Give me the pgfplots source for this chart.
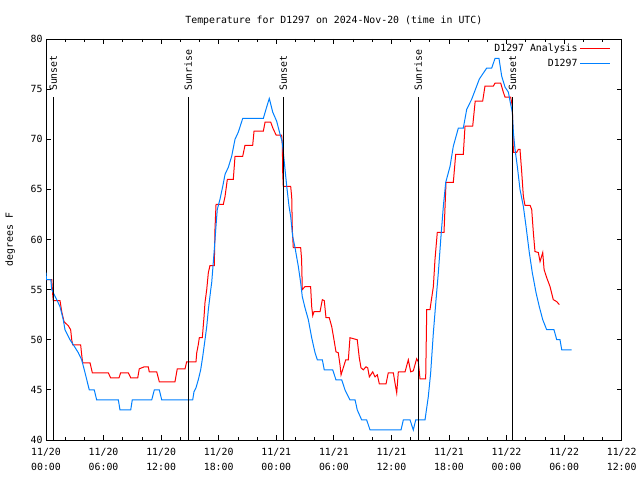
\documentclass[border=0pt]{standalone}
\usepackage{fontspec}
\setmainfont{DejaVu Sans Mono}
\usepackage{pgfplots}
\usepackage{pgfplotstable}
\pgfplotsset{compat=1.18}
\definecolor{gred}{RGB}{255,0,0}
\definecolor{gblue}{RGB}{0,128,255}

\pgfplotstableread{
h T
0 56.0
0.60 56.0
0.70 54.5
0.76 53.9
1.46 53.9
1.64 52.8
1.88 51.8
2.32 51.4
2.57 51.0
2.68 50.0
2.78 49.5
3.61 49.5
3.72 48.5
3.82 47.7
4.59 47.7
4.83 46.7
6.49 46.7
6.74 46.2
7.61 46.2
7.78 46.7
8.58 46.7
8.83 46.2
9.56 46.2
9.72 47.1
10.24 47.3
10.66 47.3
10.76 46.8
11.54 46.8
11.81 45.8
13.44 45.8
13.68 47.1
14.49 47.1
14.66 47.8
15.63 47.8
15.71 48.7
15.87 49.5
15.98 50.2
16.29 50.2
16.47 52.3
16.57 53.7
16.75 55.0
16.92 56.7
17.09 57.4
17.54 57.4
17.61 61.0
17.72 63.5
18.48 63.5
18.66 64.3
18.90 66.0
19.52 66.0
19.70 68.3
20.50 68.3
20.74 69.4
21.54 69.4
21.68 70.8
22.65 70.8
22.83 71.7
23.42 71.7
23.69 71.0
24.00 70.4
24.56 70.4
24.63 69.5
24.67 66.7
24.73 65.3
25.50 65.3
25.61 64.2
25.67 61.0
25.77 59.2
26.54 59.2
26.64 58.0
26.71 55.0
26.99 55.3
27.58 55.3
27.69 53.3
27.80 52.4
27.93 52.8
28.56 52.8
28.80 54.0
29.00 53.9
29.18 52.2
29.52 52.2
29.78 51.3
30.05 49.8
30.22 48.8
30.46 48.7
30.64 47.5
30.75 46.5
30.98 47.2
31.24 48.0
31.51 48.0
31.68 50.2
32.44 50.0
32.65 48.2
32.83 47.2
33.07 47.0
33.35 47.3
33.53 47.2
33.70 46.3
34.05 46.8
34.29 46.3
34.53 46.5
34.74 45.6
35.44 45.6
35.67 46.7
36.20 46.7
36.37 45.7
36.55 44.7
36.72 46.8
37.42 46.8
37.76 48.0
38.01 46.8
38.28 46.9
38.63 48.1
38.80 47.8
38.98 46.1
39.57 46.1
39.68 53.0
40.02 53.0
40.20 54.2
40.37 55.3
40.54 58.0
40.78 60.7
41.48 60.7
41.69 65.7
42.45 65.7
42.70 68.5
43.49 68.5
43.67 71.3
44.47 71.3
44.73 73.8
45.51 73.8
45.75 75.3
46.62 75.3
46.80 75.6
47.39 75.6
47.66 74.7
47.84 74.2
48.43 74.2
48.60 73.3
48.71 68.7
49.06 68.7
49.23 69.0
49.40 69.0
49.58 66.7
49.75 64.3
49.92 63.4
50.45 63.4
50.62 63.0
50.79 60.7
50.96 58.8
51.31 58.7
51.49 57.8
51.77 58.7
51.91 57.0
52.18 56.2
52.53 55.3
52.87 54.0
53.23 53.8
53.50 53.5
}\analysis

\pgfplotstableread{
h T
0 56.7
0.05 56.0
0.50 56.0
0.60 55.0
1.12 54.0
1.46 53.3
1.80 52.0
1.98 51.0
2.50 50.0
2.85 49.5
3.37 48.7
3.72 48.0
4.07 46.7
4.51 45.0
5.03 45.0
5.28 44.0
7.54 44.0
7.71 43.0
8.83 43.0
8.99 44.0
11.02 44.0
11.29 45.0
11.81 45.0
12.06 44.0
15.29 44.0
15.42 44.8
15.63 45.2
15.87 46.0
16.12 47.0
16.33 48.3
16.57 50.0
16.75 51.3
16.92 53.0
17.17 55.0
17.27 55.7
17.54 59.0
17.69 61.0
17.85 63.0
18.13 64.0
18.42 65.3
18.66 66.5
19.00 67.2
19.35 68.3
19.70 70.0
20.04 70.7
20.50 72.07
22.65 72.07
22.93 73.0
23.27 74.07
23.63 72.7
24.04 71.8
24.39 70.5
24.60 69.8
24.70 69.0
24.91 67.0
25.09 65.3
25.33 63.3
25.50 62.3
25.71 60.3
25.95 59.2
26.30 57.3
26.54 55.7
26.71 54.3
26.99 53.2
27.34 52.0
27.69 50.2
28.04 48.7
28.28 48.0
28.80 48.0
29.00 47.0
29.88 47.0
30.22 46.0
30.82 46.0
31.16 45.0
31.68 44.0
32.21 44.0
32.44 43.0
32.90 42.0
33.42 42.0
33.77 41.0
37.00 41.0
37.24 42.0
37.94 42.0
38.28 41.0
38.53 42.0
39.50 42.0
39.84 44.3
40.09 46.7
40.37 50.7
40.65 54.0
40.89 56.7
41.14 60.0
41.41 63.3
41.66 65.7
42.11 67.3
42.45 69.3
42.97 71.1
43.49 71.1
43.85 73.0
44.37 74.0
45.16 76.0
45.93 77.1
46.45 77.1
46.80 78.07
47.21 78.07
47.49 76.3
47.84 75.2
48.19 74.7
48.36 73.8
48.60 72.7
48.71 70.7
48.88 69.0
49.12 67.3
49.40 65.0
49.75 63.3
50.03 61.3
50.37 58.7
50.68 56.7
51.07 54.7
51.41 53.3
51.77 52.0
52.18 51.0
52.94 51.0
53.23 50.0
53.57 50.0
53.75 49.0
54.79 49.0
}\station

\begin{document}
\fontsize{9.9}{11.5}\selectfont
\begin{tikzpicture}[x=1bp,y=1bp]
\useasboundingbox (0,0) rectangle (640,480);
\begin{axis}[
  at={(46bp,40bp)}, anchor=south west,
  scale only axis, width=575.7bp, height=401bp,
  xmin=0, xmax=60, ymin=40, ymax=80,
  xtick={0,6,...,60},
  xticklabels={{11/20\\00:00},{11/20\\06:00},{11/20\\12:00},{11/20\\18:00},{11/21\\00:00},{11/21\\06:00},{11/21\\12:00},{11/21\\18:00},{11/22\\00:00},{11/22\\06:00},{11/22\\12:00}},
  minor x tick num=2,
  ytick={40,45,...,80},
  tick align=inside, major tick length=5bp, minor tick length=3bp,
  tick style={black, line width=0.8bp},
  axis line style={line width=0.9bp},
  /pgf/number format/assume math mode=true,
  xticklabel style={align=center, font=\fontsize{9.9}{14.5}\selectfont, yshift=-5bp},
  yticklabel style={font=\fontsize{9.9}{11.5}\selectfont},
  ylabel={degrees F},
  ylabel style={at={(axis description cs:-0.062,0.5)}, anchor=center},
  title={Temperature for D1297 on 2024-Nov-20 (time in UTC)},
  title style={at={(axis description cs:0.5,1)}, anchor=south, yshift=4bp},
  legend style={draw=none, fill=none, at={(axis description cs:1,1)}, anchor=north east, xshift=-8bp, yshift=-1bp, row sep=2bp, font=\fontsize{9.9}{11.5}\selectfont},
  legend cell align=right,
  legend plot pos=right,
  legend image code/.code={\draw[#1] (0bp,0bp) -- (30bp,0bp);},
]
\addplot[gred, line width=1bp] table[x=h,y=T] {\analysis};
\addlegendentry{D1297 Analysis}
\addplot[gblue, line width=1bp] table[x=h,y=T] {\station};
\addlegendentry{D1297}

\addplot[black, line width=1bp, forget plot] coordinates {(0.76,40) (0.76,74.2)};
\addplot[black, line width=1bp, forget plot] coordinates {(14.83,40) (14.83,74.2)};
\addplot[black, line width=1bp, forget plot] coordinates {(24.73,40) (24.73,74.2)};
\addplot[black, line width=1bp, forget plot] coordinates {(38.80,40) (38.80,74.2)};
\addplot[black, line width=1bp, forget plot] coordinates {(48.62,40) (48.62,74.2)};
\node[rotate=90, anchor=west, inner sep=1bp] at (axis cs:0.76,74.7) {Sunset};
\node[rotate=90, anchor=west, inner sep=1bp] at (axis cs:14.83,74.7) {Sunrise};
\node[rotate=90, anchor=west, inner sep=1bp] at (axis cs:24.73,74.7) {Sunset};
\node[rotate=90, anchor=west, inner sep=1bp] at (axis cs:38.80,74.7) {Sunrise};
\node[rotate=90, anchor=west, inner sep=1bp] at (axis cs:48.62,74.7) {Sunset};
\end{axis}
\end{tikzpicture}
\end{document}
